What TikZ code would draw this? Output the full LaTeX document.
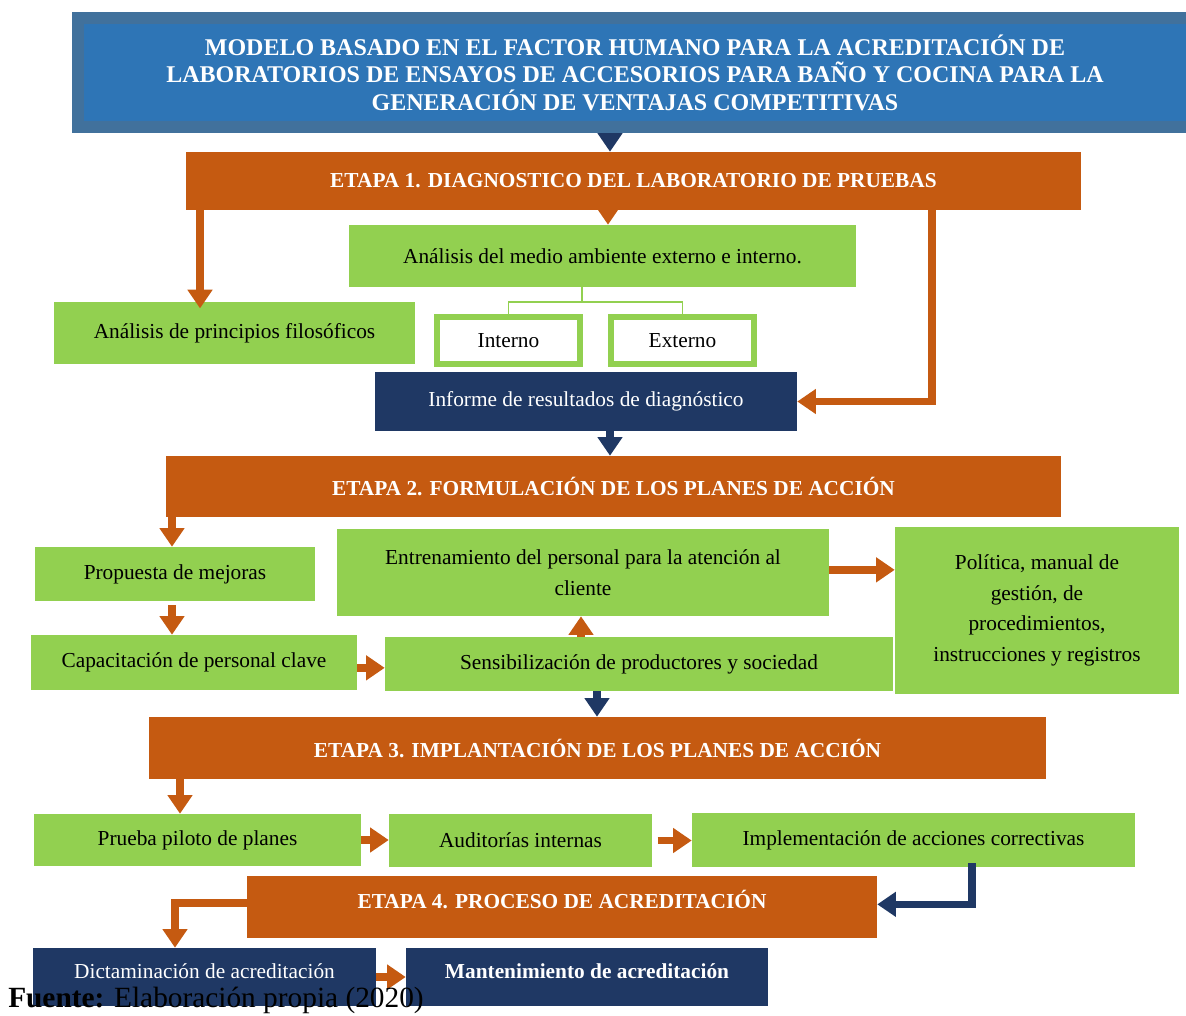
\documentclass[tikz,border=0pt]{standalone}
\usepackage{fontspec}
\setmainfont{Liberation Serif}
\usetikzlibrary{arrows.meta}

\definecolor{naranja}{HTML}{C55A11}
\definecolor{verdecaja}{HTML}{92D050}
\definecolor{marino}{HTML}{1F3864}
\definecolor{azul}{HTML}{2E75B6}
\definecolor{azulborde}{HTML}{41719C}

\begin{document}
\begin{tikzpicture}[x=0.75pt, y=-0.75pt,
  caja/.style={inner sep=0pt, align=center, font=\fontsize{16}{23}\selectfont},
  sz/.style 2 args={minimum width={(#1)*0.75pt}, minimum height={(#2)*0.75pt}},
  cajaverde/.style={caja, fill=verdecaja},
  cajamarino/.style={caja, fill=marino, text=white},
  cajablanca/.style={caja, fill=white, draw=verdecaja, line width=4.5pt},
  etapa/.style={caja, fill=naranja, text=white, font=\bfseries\fontsize{16}{19}\selectfont},
  flecha/.style={line width=5.5pt, draw=naranja, -{Triangle[width=18pt,length=14pt]}},
  flechaazul/.style={flecha, draw=marino},
  rama/.style={draw=verdecaja, line width=1pt}]

\useasboundingbox (0,0) rectangle (1186,1015);

% titulo
\node[caja, sz={1114}{109}, fill=azul, draw=azulborde, line width=9pt, text=white,
  font=\bfseries\fontsize{18}{20.6}\selectfont] (titulo) at (635,72.5)
  {MODELO BASADO EN EL FACTOR HUMANO PARA LA ACREDITACIÓN DE\\
   LABORATORIOS DE ENSAYOS DE ACCESORIOS PARA BAÑO Y COCINA PARA LA\\
   GENERACIÓN DE VENTAJAS COMPETITIVAS};

% etapa 1
\node[etapa, sz={895}{58}] (etapa1) at (633.5,181) {ETAPA 1. DIAGNOSTICO DEL LABORATORIO DE PRUEBAS};
\node[cajaverde, sz={507}{62}] (ambiente) at (602.5,256) {Análisis del medio ambiente externo e interno.};
\node[cajaverde, sz={361}{62}] (principios) at (234.5,333) {Análisis de principios filosóficos};
\node[cajablanca, sz={143}{47}] (interno) at (508.5,340.5) {Interno};
\node[cajablanca, sz={143}{47}] (externo) at (682.5,340.5) {Externo};
\node[cajamarino, sz={422}{59}] (informe) at (586,401.5) {Informe de resultados de diagnóstico};

% etapa 2
\node[etapa, sz={895}{61}] (etapa2) at (613.5,486.5) {ETAPA 2. FORMULACIÓN DE LOS PLANES DE ACCIÓN};
\node[cajaverde, sz={280}{54}] (propuesta) at (175,574) {Propuesta de mejoras};
\node[cajaverde, sz={326}{55}] (capacitacion) at (194,662.5) {Capacitación de personal clave};
\node[cajaverde, sz={508}{54}] (sensibilizacion) at (639,664) {Sensibilización de productores y sociedad};
\node[cajaverde, sz={492}{87}] (entrenamiento) at (583,572.5)
  {Entrenamiento del personal para la atención al\\ cliente};
\node[cajaverde, sz={284}{167}] (politica) at (1037,610.5)
  {Política, manual de\\ gestión, de\\ procedimientos,\\ instrucciones y registros};

% etapa 3
\node[etapa, sz={897}{62}] (etapa3) at (597.5,748) {ETAPA 3. IMPLANTACIÓN DE LOS PLANES DE ACCIÓN};
\node[cajaverde, sz={327}{52}] (piloto) at (197.5,840) {Prueba piloto de planes};
\node[cajaverde, sz={263}{53}] (auditorias) at (520.5,840.5) {Auditorías internas};
\node[cajaverde, sz={443}{54}] (implementacion) at (913.5,840) {Implementación de acciones correctivas};

% etapa 4
\node[etapa, sz={630}{62}] (etapa4) at (562,907) {\raisebox{11pt}{ETAPA 4. PROCESO DE ACREDITACIÓN}};
\node[cajamarino, sz={343}{58}] (dictaminacion) at (204.5,977) {\raisebox{9pt}{Dictaminación de acreditación}};
\node[cajamarino, sz={362}{58}, font=\bfseries\fontsize{16}{19}\selectfont] (mantenimiento) at (587,977)
  {\raisebox{9pt}{Mantenimiento de acreditación}};

% conectores
\draw[flechaazul] (titulo.south -| 610,0) -- (etapa1.north -| 610,0);
\draw[flecha] (etapa1.south -| 200,0) -- ([yshift=-5pt]principios.north -| 200,0);
\draw[flecha] ([yshift=9pt]etapa1.south -| 608,0) -- (ambiente.north -| 608,0);
\draw[flecha] (etapa1.south -| 932,0) |- (informe.east);

\coordinate (nudo) at (582,302);
\draw[rama] (ambiente.south -| nudo) -- (nudo);
\draw[rama] (interno.north) |- (nudo) -| (externo.north);

\draw[flechaazul] (informe.south -| 610,0) -- (etapa2.north -| 610,0);
\draw[flecha] ([yshift=3pt]etapa2.south -| 172,0) -- (propuesta.north -| 172,0);
\draw[flecha] ([yshift=-3pt]propuesta.south -| 172,0) -- (capacitacion.north -| 172,0);
\draw[flecha] ([yshift=-4pt]capacitacion.east) -- ([yshift=-4pt]capacitacion.east -| sensibilizacion.west);
\draw[flecha] (sensibilizacion.north -| 581,0) -- (entrenamiento.south -| 581,0);
\draw[flecha] ([yshift=2pt]entrenamiento.east) -- ([yshift=2pt]entrenamiento.east -| politica.west);
\draw[flechaazul] (sensibilizacion.south -| 597,0) -- (etapa3.north -| 597,0);

\draw[flecha] ([yshift=3pt]etapa3.south -| 180,0) -- (piloto.north -| 180,0);
\draw[flecha] (piloto.east) -- (piloto.east -| auditorias.west);
\draw[flecha] ([xshift=4pt]auditorias.east) -- (auditorias.east -| implementacion.west);
\draw[flechaazul] ([yshift=3pt]implementacion.south -| 972,0) |- ([yshift=2pt]etapa4.east);

\draw[flecha] ([yshift=3pt]etapa4.west) -| (dictaminacion.north -| 175,0);
\draw[flecha] (dictaminacion.east) -- (mantenimiento.west);

% fuente
\node[anchor=base west, inner sep=0pt, font=\fontsize{22}{26}\selectfont] (fuente) at (8,1007)
  {\textbf{Fuente:} Elaboración propia (2020)};
\end{tikzpicture}
\end{document}
